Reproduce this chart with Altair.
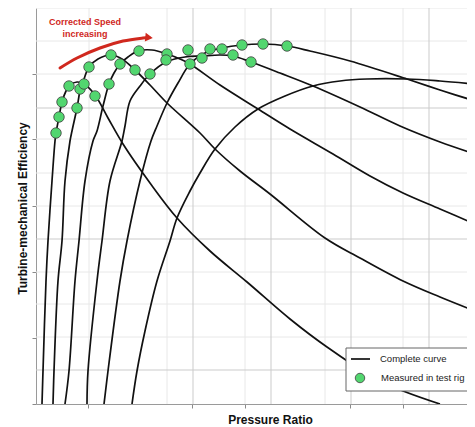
import altair as alt
import pandas as pd

# ---------------- data (pressure ratio, efficiency %) ----------------
c1_pr = [1.06, 1.07, 1.10, 1.12, 1.16, 1.19, 1.20, 1.23, 1.26, 1.30, 1.34, 1.41, 1.48, 1.59, 1.72, 1.87, 2.14, 2.41, 2.74, 3.11, 3.54, 3.91, 4.44, 5.04]
c1_eff = [40.0, 43.3, 52.3, 56.3, 62.3, 66.3, 67.1, 68.7, 70.2, 71.3, 71.9, 72.2, 72.0, 70.9, 68.6, 66.0, 62.1, 58.6, 55.3, 52.2, 48.5, 45.7, 42.3, 40.0]

c2_pr = [1.17, 1.18, 1.22, 1.26, 1.29, 1.34, 1.36, 1.41, 1.44, 1.48, 1.53, 1.62, 1.75, 1.86, 1.99, 2.14, 2.31, 2.64, 2.79, 3.04, 3.34, 3.89, 4.24, 4.67, 5.04, 5.39]
c2_eff = [40.0, 43.3, 52.3, 56.3, 62.3, 66.3, 67.3, 69.6, 71.3, 72.5, 73.7, 74.5, 74.9, 74.5, 73.4, 71.9, 70.1, 67.1, 65.5, 63.3, 61.0, 56.6, 54.6, 52.3, 50.7, 49.3]

c3_pr = [1.29, 1.33, 1.39, 1.43, 1.49, 1.57, 1.61, 1.67, 1.73, 1.78, 1.84, 1.92, 2.02, 2.16, 2.31, 2.44, 2.54, 2.84, 3.22, 3.54, 3.97, 4.34, 4.67, 5.04, 5.39]
c3_eff = [40.0, 43.3, 52.3, 56.3, 62.3, 66.3, 67.3, 69.8, 72.0, 73.1, 74.0, 74.7, 75.3, 75.4, 75.0, 74.5, 74.0, 71.9, 69.5, 67.5, 65.0, 62.8, 61.1, 59.5, 58.0]

c4_pr = [1.51, 1.52, 1.61, 1.66, 1.74, 1.86, 1.89, 1.94, 2.04, 2.14, 2.30, 2.49, 2.66, 2.84, 2.97, 3.15, 3.44, 3.77, 4.24, 4.64, 5.04, 5.39]
c4_eff = [40.0, 43.3, 52.3, 56.3, 62.3, 66.3, 67.8, 70.3, 71.8, 73.0, 74.2, 74.7, 74.8, 74.9, 74.8, 74.2, 73.1, 71.8, 69.7, 67.8, 66.2, 65.0]

c5_pr = [1.68, 1.72, 1.84, 1.91, 2.04, 2.15, 2.21, 2.31, 2.42, 2.54, 2.69, 2.86, 3.06, 3.27, 3.51, 3.74, 4.14, 4.71, 5.04, 5.39]
c5_eff = [40.0, 43.3, 52.3, 56.3, 62.3, 66.3, 67.8, 70.1, 72.1, 74.0, 75.1, 75.6, 75.9, 76.0, 75.8, 75.3, 74.3, 72.5, 71.4, 70.3]

c6_pr = [1.96, 2.01, 2.09, 2.21, 2.34, 2.41, 2.54, 2.64, 2.79, 2.99, 3.22, 3.49, 3.77, 4.04, 4.31, 4.71, 5.04, 5.39]
c6_eff = [40.0, 43.3, 47.3, 52.3, 56.3, 58.6, 61.3, 63.1, 65.5, 67.7, 69.5, 70.8, 71.8, 72.3, 72.5, 72.5, 72.3, 72.0]

meas_pr = [1.20, 1.23, 1.26, 1.33, 1.44, 1.48, 1.41, 1.59, 1.53, 1.73, 1.75, 1.84, 1.99, 2.03, 2.14,
           2.31, 2.30, 2.52, 2.54, 2.66, 2.74, 2.86, 2.97, 3.06, 3.15, 3.27, 3.51]
meas_eff = [67.1, 68.7, 70.2, 71.8, 71.5, 72.0, 69.6, 70.8, 73.7, 72.0, 74.9, 74.0, 73.4, 75.3, 73.0,
            75.0, 74.4, 75.4, 74.0, 74.6, 75.5, 75.5, 74.9, 75.9, 74.2, 76.0, 75.8]

arrow_pr = [1.24, 1.41, 1.64, 1.87, 2.07, 2.13]
arrow_eff = [73.6, 74.6, 75.6, 76.3, 76.6, 76.65]

grid_x_major = [2.57, 3.35, 4.15, 4.93]
grid_x_minor = [1.53, 2.31, 3.09, 3.89, 4.67]
grid_y_major = [43.4, 56.5, 69.6]
grid_y_minor = [46.7, 50.0, 53.2, 59.8, 63.1, 66.5, 73.0, 76.3, 79.6]
x_ticks = [1.52, 2.56, 3.09, 4.14, 4.67]
y_ticks = [40.0, 46.6, 53.2, 59.8, 66.5, 73.0]

# ---------------- build tables ----------------
curves = [(c1_pr, c1_eff), (c2_pr, c2_eff), (c3_pr, c3_eff),
          (c4_pr, c4_eff), (c5_pr, c5_eff), (c6_pr, c6_eff)]
rows = []
for i, (xs, ys) in enumerate(curves):
    for j, (xv, yv) in enumerate(zip(xs, ys)):
        rows.append({"curve": f"N{i + 1}", "pr": xv, "eff": yv, "order": j})
curves_df = pd.DataFrame(rows)
meas_df = pd.DataFrame({"pr": meas_pr, "eff": meas_eff})
arrow_df = pd.DataFrame({"pr": arrow_pr, "eff": arrow_eff, "order": list(range(len(arrow_pr)))})

FONT = "Liberation Sans"
RED = "#d0281e"
GREEN = "#52d66f"

xscale = alt.Scale(domain=[1.0, 5.31], nice=False, zero=False)
yscale = alt.Scale(domain=[40.0, 79.6], nice=False, zero=False)

x_axis = alt.Axis(title="Pressure Ratio", values=x_ticks, labels=False, grid=False,
                  domainColor="#9a9a9a", tickColor="#8a8a8a", tickSize=4,
                  titleFont=FONT, titleFontSize=12, titleFontWeight="bold", titleColor="#111111",
                  titleX=234, titleY=15, titleBaseline="middle", titleAlign="center")
y_axis = alt.Axis(title="Turbine-mechanical Efficiency", values=y_ticks, labels=False, grid=False,
                  domainColor="#9a9a9a", tickColor="#8a8a8a", tickSize=4,
                  titleFont=FONT, titleFontSize=12, titleFontWeight="bold", titleColor="#111111",
                  titleX=-14, titleY=200, titleAngle=270, titleBaseline="middle", titleAlign="center")

X = lambda f: alt.X(f, scale=xscale, axis=x_axis)
Y = lambda f: alt.Y(f, scale=yscale, axis=y_axis)

gx_minor = alt.Chart(pd.DataFrame({"v": grid_x_minor})).mark_rule(color="#e8e8e8", strokeWidth=1).encode(x=X("v:Q"))
gx_major = alt.Chart(pd.DataFrame({"v": grid_x_major})).mark_rule(color="#cbcbcb", strokeWidth=1).encode(x=X("v:Q"))
gy_minor = alt.Chart(pd.DataFrame({"v": grid_y_minor})).mark_rule(color="#e8e8e8", strokeWidth=1).encode(y=Y("v:Q"))
gy_major = alt.Chart(pd.DataFrame({"v": grid_y_major})).mark_rule(color="#cbcbcb", strokeWidth=1).encode(y=Y("v:Q"))

lines = alt.Chart(curves_df).mark_line(color="#111111", strokeWidth=1.7, interpolate="catmull-rom", clip=True).encode(
    x=X("pr:Q"), y=Y("eff:Q"), detail="curve:N", order="order:Q",
)

dots = alt.Chart(meas_df).mark_circle(size=110, color=GREEN, opacity=1, stroke="#3f3f3f", strokeWidth=0.8).encode(
    x=X("pr:Q"), y=Y("eff:Q"),
)

arrow = alt.Chart(arrow_df).mark_line(color=RED, strokeWidth=3, strokeCap="round", interpolate="catmull-rom").encode(
    x=X("pr:Q"), y=Y("eff:Q"), order="order:Q",
)
arrow_head = alt.Chart(pd.DataFrame({"pr": [arrow_pr[-1]], "eff": [arrow_eff[-1]]})).mark_point(
    shape="triangle-right", filled=True, size=75, color=RED, opacity=1, angle=6).encode(
    x=X("pr:Q"), y=Y("eff:Q"),
)

one = pd.DataFrame({"a": [0]})
ann1 = alt.Chart(one).mark_text(text="Corrected Speed", font=FONT, fontSize=9, fontWeight="bold",
                                color=RED, align="center", baseline="middle").encode(
    x=alt.value(49), y=alt.value(14))
ann2 = alt.Chart(one).mark_text(text="increasing", font=FONT, fontSize=9, fontWeight="bold",
                                color=RED, align="center", baseline="middle").encode(
    x=alt.value(49), y=alt.value(26))

leg_box = alt.Chart(one).mark_rect(fill="white", stroke="#666666", strokeWidth=1).encode(
    x=alt.value(310), x2=alt.value(432), y=alt.value(340), y2=alt.value(383))
leg_line = alt.Chart(one).mark_rule(color="#111111", strokeWidth=1.7).encode(
    x=alt.value(315), x2=alt.value(334), y=alt.value(351))
leg_dot = alt.Chart(one).mark_circle(size=90, color=GREEN, opacity=1, stroke="#3f3f3f", strokeWidth=0.8).encode(
    x=alt.value(324), y=alt.value(370))
leg_t1 = alt.Chart(one).mark_text(text="Complete curve", font=FONT, fontSize=9.5, color="#222222",
                                  align="left", baseline="middle").encode(x=alt.value(344), y=alt.value(351))
leg_t2 = alt.Chart(one).mark_text(text="Measured in test rig", font=FONT, fontSize=9.5, color="#222222",
                                  align="left", baseline="middle").encode(x=alt.value(345), y=alt.value(370))

chart = alt.layer(
    gx_minor, gy_minor, gx_major, gy_major, lines, arrow, arrow_head, dots, ann1, ann2,
    leg_box, leg_line, leg_dot, leg_t1, leg_t2,
).properties(
    width=431, height=396,
    padding={"left": 28, "top": 0, "right": 0, "bottom": 23},
    autosize=alt.AutoSizeParams(type="none"),
).configure_view(stroke=None)

chart.save("out.html", embed_options={"renderer": "svg", "actions": False})
